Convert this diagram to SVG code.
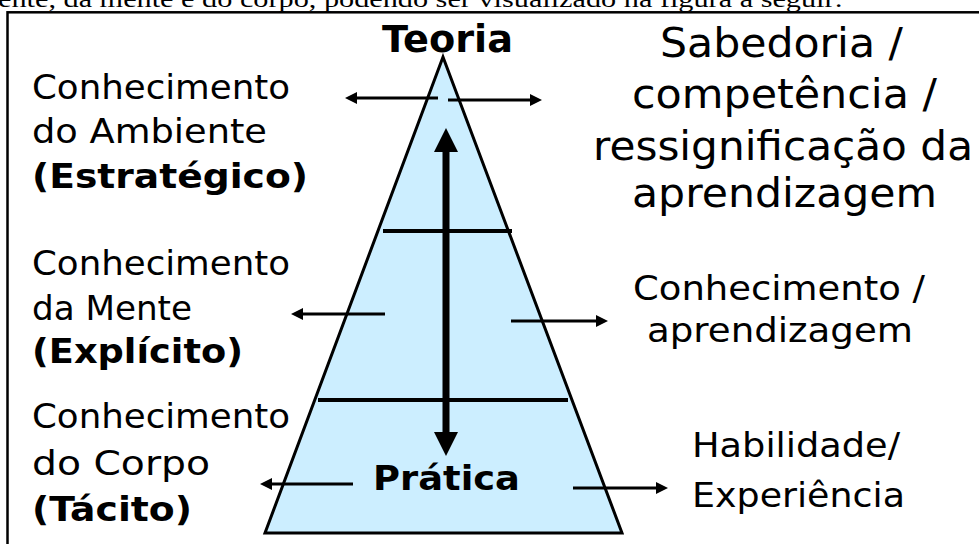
<svg xmlns="http://www.w3.org/2000/svg" width="979" height="544" viewBox="0 0 979 544">
<style>
.s{font-family:"DejaVu Sans",Verdana,sans-serif;fill:#000}
.b{font-weight:bold}
.ln{stroke:#000;fill:none}
.sa{stroke:#000;stroke-width:3;marker-end:url(#ah)}
</style>
<defs>
<marker id="ah" markerWidth="12" markerHeight="12" refX="8" refY="6" orient="auto" markerUnits="userSpaceOnUse"><path d="M0,0 L12,6 L0,12 z" fill="#000"/></marker>
<marker id="big" markerWidth="24" markerHeight="24" refX="2" refY="12" orient="auto-start-reverse" markerUnits="userSpaceOnUse"><path d="M0,0 L24,12 L0,24 z" fill="#000"/></marker>
</defs>
<rect width="979" height="544" fill="#fff"/>
<text x="-2" y="7" font-family="Liberation Serif, Times New Roman, serif" font-size="24" textLength="845" lengthAdjust="spacingAndGlyphs">ente, da mente e do corpo, podendo ser visualizado na figura a seguir:</text>
<rect x="7.5" y="12.3" width="1000" height="600" class="ln" stroke-width="2.5"/>

<g id="piramide">
<polygon points="443,57 265,533 622,533" fill="#cceeff" stroke="#000" stroke-width="3"/>
<line x1="383" y1="231" x2="512" y2="231" class="ln" stroke-width="4"/>
<line x1="318" y1="400" x2="568" y2="400" class="ln" stroke-width="4"/>
</g>

<g id="connectors">
<line x1="446" y1="150" x2="446" y2="434" stroke="#000" stroke-width="7" marker-start="url(#big)" marker-end="url(#big)"/>
<line x1="438" y1="98" x2="349" y2="98" class="sa"/>
<line x1="448" y1="100" x2="538" y2="100" class="sa"/>
<line x1="385" y1="314" x2="295" y2="314" class="sa"/>
<line x1="511" y1="321" x2="604" y2="321" class="sa"/>
<line x1="353" y1="484" x2="264" y2="484" class="sa"/>
<line x1="573" y1="488" x2="664" y2="488" class="sa"/>
</g>

<g id="teoria"><text class="s b" x="382" y="52" font-size="37" textLength="131" lengthAdjust="spacingAndGlyphs">Teoria</text></g>
<g id="pratica"><text class="s b" x="373" y="490" font-size="33" textLength="147" lengthAdjust="spacingAndGlyphs">Prática</text></g>

<g id="ambiente" class="s" font-size="34.5">
<text x="32" y="99" textLength="258" lengthAdjust="spacingAndGlyphs">Conhecimento</text>
<text x="32" y="143" textLength="235" lengthAdjust="spacingAndGlyphs">do Ambiente</text>
<text x="32" y="188" class="b" textLength="276" lengthAdjust="spacingAndGlyphs">(Estratégico)</text>
</g>
<g id="mente" class="s" font-size="34.5">
<text x="32" y="275" textLength="258" lengthAdjust="spacingAndGlyphs">Conhecimento</text>
<text x="32" y="320" textLength="160" lengthAdjust="spacingAndGlyphs">da Mente</text>
<text x="32" y="363" class="b" textLength="211" lengthAdjust="spacingAndGlyphs">(Explícito)</text>
</g>
<g id="corpo" class="s" font-size="34.5">
<text x="32" y="428" textLength="258" lengthAdjust="spacingAndGlyphs">Conhecimento</text>
<text x="32" y="475" textLength="178" lengthAdjust="spacingAndGlyphs">do Corpo</text>
<text x="32" y="521" class="b" textLength="160" lengthAdjust="spacingAndGlyphs">(Tácito)</text>
</g>

<g id="sabedoria" class="s" font-size="41.5">
<text x="660" y="57" textLength="243" lengthAdjust="spacingAndGlyphs">Sabedoria /</text>
<text x="632" y="108" textLength="305" lengthAdjust="spacingAndGlyphs">competência /</text>
<text x="593" y="160" textLength="380" lengthAdjust="spacingAndGlyphs">ressignificação da</text>
<text x="632" y="207" textLength="305" lengthAdjust="spacingAndGlyphs">aprendizagem</text>
</g>
<g id="aprendizagem" class="s" font-size="34.5">
<text x="633" y="300" textLength="292" lengthAdjust="spacingAndGlyphs">Conhecimento /</text>
<text x="647" y="342" textLength="266" lengthAdjust="spacingAndGlyphs">aprendizagem</text>
</g>
<g id="habilidade" class="s" font-size="34">
<text x="692" y="457" textLength="208" lengthAdjust="spacingAndGlyphs">Habilidade/</text>
<text x="692" y="507" textLength="213" lengthAdjust="spacingAndGlyphs">Experiência</text>
</g>
</svg>
